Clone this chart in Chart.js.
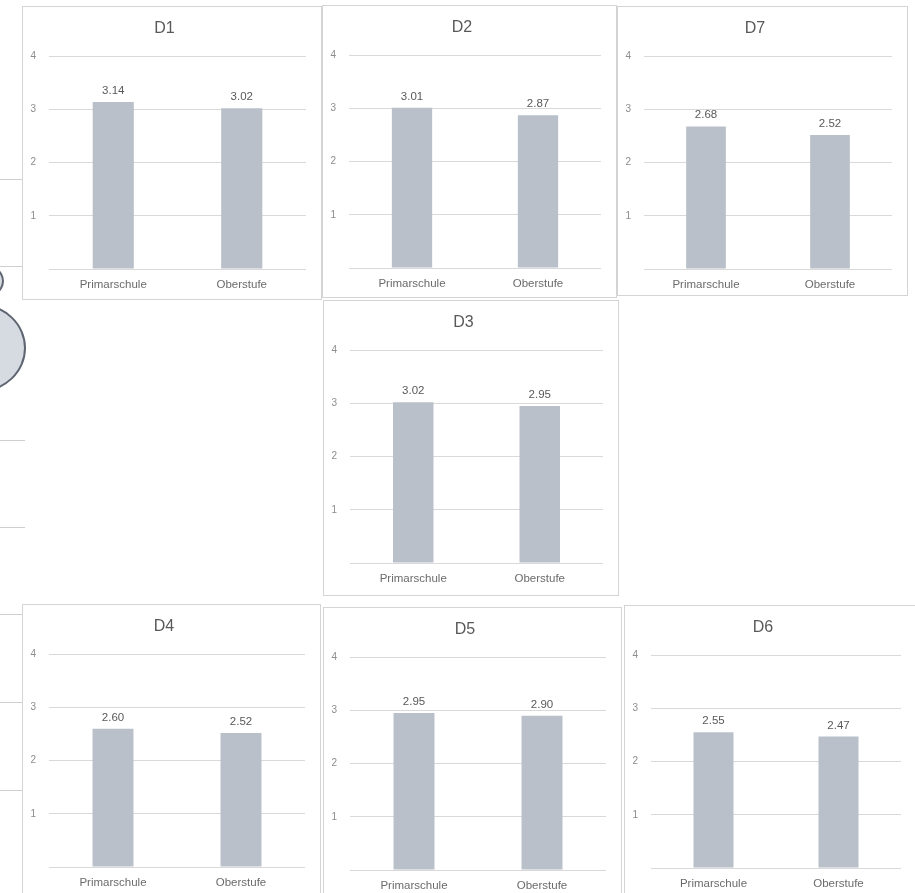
<!DOCTYPE html>
<html>
<head>
<meta charset="utf-8">
<script src="https://cdn.jsdelivr.net/npm/chart.js@4/dist/chart.umd.min.js"></script>
<style>
  body { margin: 0; background: #fff; }
  #page { position: relative; width: 915px; height: 893px; overflow: hidden; background: #fff; }
  .box { position: absolute; border: 1px solid #d4d4d4; background: #fff; }
  .box canvas { display: block; }
  .deco-line { position: absolute; left: 0; height: 1px; background: #cfcfcf; }
  .deco-oval { position: absolute; border: 2px solid #5f6672; background: #d6dbe2; border-radius: 50%; }
</style>
</head>
<body>
<div id="page">
  <div class="deco-line" style="top:179px; width:22px"></div>
  <div class="deco-line" style="top:266px; width:22px"></div>
  <div class="deco-oval" style="left:-46px; top:262px; width:46px; height:34px"></div>
  <div class="deco-oval" style="left:-66px; top:304px; width:88px; height:84px"></div>
  <div class="deco-line" style="top:440px; width:25px"></div>
  <div class="deco-line" style="top:527px; width:25px"></div>
  <div class="deco-line" style="top:614px; width:22px"></div>
  <div class="deco-line" style="top:702px; width:22px"></div>
  <div class="deco-line" style="top:790px; width:22px"></div>
</div>
<script>
const categories = ['Primarschule', 'Oberstufe']
const chartTitles = ['D1', 'D2', 'D7', 'D3', 'D4', 'D5', 'D6']
const primarValues = [3.14, 3.01, 2.68, 3.02, 2.60, 2.95, 2.55]
const oberstufeValues = [3.02, 2.87, 2.52, 2.95, 2.52, 2.90, 2.47]
const yTicks = [0, 1, 2, 3, 4]

// where each chart frame sits on the page (outer box, px)
const boxes = [
  { x: 22, y: 6, w: 300, h: 294 },
  { x: 322, y: 5, w: 295, h: 293 },
  { x: 617, y: 6, w: 291, h: 290 },
  { x: 323, y: 300, w: 296, h: 296 },
  { x: 22, y: 604, w: 299, h: 294 },
  { x: 323, y: 607, w: 299, h: 294 },
  { x: 624, y: 605, w: 293, h: 294 },
]

const FONT = '"Liberation Sans", Arial, sans-serif'

// value labels above the bars
const barValueLabels = {
  id: 'barValueLabels',
  afterDatasetsDraw(chart) {
    const ctx = chart.ctx
    const meta = chart.getDatasetMeta(0)
    ctx.save()
    ctx.font = '11.5px ' + FONT
    ctx.fillStyle = '#595959'
    ctx.textAlign = 'center'
    ctx.textBaseline = 'alphabetic'
    meta.data.forEach((bar, i) => {
      const v = chart.data.datasets[0].data[i]
      ctx.fillText(v.toFixed(2), bar.x, bar.y - 8)
    })
    ctx.restore()
  }
}

const page = document.getElementById('page')

chartTitles.forEach((title, i) => {
  const b = boxes[i]
  const box = document.createElement('div')
  box.className = 'box'
  box.style.left = b.x + 'px'
  box.style.top = b.y + 'px'
  box.style.width = (b.w - 2) + 'px'
  box.style.height = (b.h - 2) + 'px'
  const canvas = document.createElement('canvas')
  canvas.width = b.w - 2
  canvas.height = b.h - 2
  box.appendChild(canvas)
  page.appendChild(box)

  const innerH = b.h - 2

  new Chart(canvas, {
    type: 'bar',
    data: {
      labels: categories,
      datasets: [
        {
          label: title,
          data: [primarValues[i], oberstufeValues[i]],
          backgroundColor: '#b9c0ca',
          borderWidth: 0,
          barPercentage: 0.32,
          categoryPercentage: 1,
        },
      ]
    },
    options: {
      responsive: false,
      animation: false,
      devicePixelRatio: 1,
      layout: { padding: { left: 0, right: 15, top: 0, bottom: 0 } },
      plugins: {
        legend: { display: false },
        tooltip: { enabled: false },
        title: {
          display: true,
          text: title,
          color: '#595959',
          font: { family: FONT, size: 16, weight: 'normal' },
          padding: { top: 12, bottom: 18 }
        }
      },
      scales: {
        x: {
          grid: { display: false, drawTicks: false },
          border: { display: false },
          ticks: {
            color: '#6b6b6b',
            font: { family: FONT, size: 11.5 },
            padding: 9,
            maxRotation: 0
          },
          afterFit: scale => { scale.height = innerH - 262 }
        },
        y: {
          min: yTicks[0],
          max: yTicks[yTicks.length - 1],
          afterBuildTicks: scale => { scale.ticks = yTicks.map(v => ({ value: v })) },
          grid: { color: '#d9d9d9', lineWidth: 1, drawTicks: false },
          border: { display: false },
          ticks: {
            color: '#8c8c8c',
            font: { family: FONT, size: 10 },
            padding: 13,
            callback: v => (v === 0 ? '' : v)
          },
          afterFit: scale => { scale.width = 26 }
        }
      }
    },
    plugins: [barValueLabels]
  })
})
</script>
</body>
</html>
